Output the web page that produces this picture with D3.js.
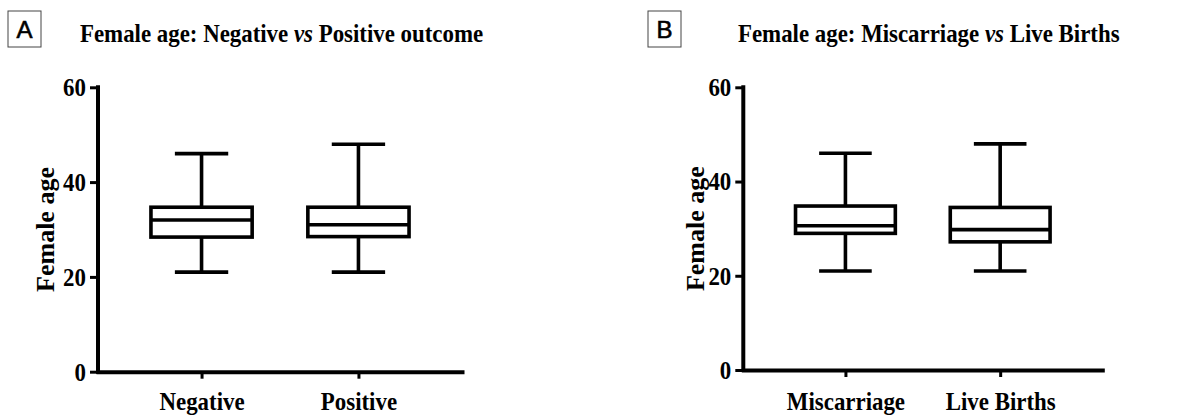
<!DOCTYPE html>
<html>
<head>
<meta charset="utf-8">
<script src="https://cdn.jsdelivr.net/npm/d3@7"></script>
<style>
    body { margin: 0; background: #fff; }
    text { font-family: "Liberation Serif", "Times New Roman", serif; font-weight: bold; fill: #000; }
    .letter { font-family: "Liberation Sans", Arial, sans-serif; font-weight: normal; }
</style>
</head>
<body>
<svg id="chart" width="1189" height="415"></svg>
<script>
// tick labels shared by both panels
var yTicks = [0, 20, 40, 60];

// panel A: negative vs positive outcome
var catsA = ["Negative", "Positive"];
var minA = [21, 21];
var q1A = [28.4, 28.5];
var medA = [32, 31];
var q3A = [34.7, 34.7];
var maxA = [46, 48];

// panel B: miscarriage vs live births
var catsB = ["Miscarriage", "Live Births"];
var minB = [21, 21];
var q1B = [29, 27.2];
var medB = [30.6, 29.8];
var q3B = [34.8, 34.5];
var maxB = [46, 48];

var svg = d3.select("#chart");
var squeeze = 0.88; // the original figure is squeezed horizontally a bit

function drawPanel(p) {
    var x = d3.scalePoint().domain(p.cats).range([p.left, p.right]).padding(0.66);
    var y = d3.scaleLinear().domain([0, 60]).range([p.bottom, p.top]);
    var step = x.step();
    var boxW = step * 0.645, capW = step * 0.34;

    var rows = p.cats.map(function(c, i) {
        return {cat: c, min: p.min[i], q1: p.q1[i], med: p.med[i], q3: p.q3[i], max: p.max[i]};
    });

    // letter box
    svg.append("rect").attr("x", p.letterX).attr("y", 11).attr("width", 33).attr("height", 36)
        .attr("fill", "none").attr("stroke", "#444").attr("stroke-width", 1);
    svg.append("text").attr("class", "letter").attr("x", p.letterX + 16.5).attr("y", 37.5)
        .attr("text-anchor", "middle").style("font-size", "24px")
        .attr("stroke", "#000").attr("stroke-width", 0.6).text(p.letter);

    // title
    var t = svg.append("text").attr("transform", "translate(" + p.titleX + ",42) scale(" + squeeze + ",1)")
        .style("font-size", "26px");
    t.append("tspan").text(p.title[0] + " ");
    t.append("tspan").style("font-style", "italic").text("vs");
    t.append("tspan").text(" " + p.title[1]);

    // axes
    var gy = svg.append("g").attr("transform", "translate(" + p.left + ",0)")
        .call(d3.axisLeft(y).tickValues(yTicks).tickSize(8).tickSizeOuter(0).tickPadding(4));
    var gx = svg.append("g").attr("transform", "translate(0," + p.bottom + ")")
        .call(d3.axisBottom(x).tickSize(7).tickSizeOuter(0));
    [gy, gx].forEach(function(g) {
        g.attr("font-family", null).attr("font-size", null);
        g.select(".domain").attr("stroke", "#000").attr("stroke-width", 4).attr("stroke-linecap", "square");
        g.selectAll(".tick line").attr("stroke", "#000").attr("stroke-width", 3);
        g.selectAll("text").attr("class", "squash").style("font-size", "26px");
    });
    gx.selectAll("text").attr("dy", 0).attr("y", 410 - p.bottom);
    gy.select(".domain").attr("d", "M0," + y(0) + "V" + y(60));

    // y label
    svg.append("text").attr("transform", "translate(" + p.labelX + "," + y(30) + ") rotate(-90)")
        .attr("text-anchor", "middle").style("font-size", "26px").text("Female age");

    // boxes
    var g = svg.append("g").attr("fill", "none").attr("stroke", "#000").attr("stroke-width", 3.6);
    var b = g.selectAll(".box").data(rows).enter().append("g").attr("class", "box");
    b.append("line").attr("x1", function(d) { return x(d.cat); }).attr("x2", function(d) { return x(d.cat); })
        .attr("y1", function(d) { return y(d.max); }).attr("y2", function(d) { return y(d.q3); });
    b.append("line").attr("x1", function(d) { return x(d.cat); }).attr("x2", function(d) { return x(d.cat); })
        .attr("y1", function(d) { return y(d.q1); }).attr("y2", function(d) { return y(d.min); });
    b.append("line").attr("x1", function(d) { return x(d.cat) - capW / 2; }).attr("x2", function(d) { return x(d.cat) + capW / 2; })
        .attr("y1", function(d) { return y(d.max); }).attr("y2", function(d) { return y(d.max); });
    b.append("line").attr("x1", function(d) { return x(d.cat) - capW / 2; }).attr("x2", function(d) { return x(d.cat) + capW / 2; })
        .attr("y1", function(d) { return y(d.min); }).attr("y2", function(d) { return y(d.min); });
    b.append("rect").attr("x", function(d) { return x(d.cat) - boxW / 2; }).attr("width", boxW)
        .attr("y", function(d) { return y(d.q3); }).attr("height", function(d) { return y(d.q1) - y(d.q3); })
        .attr("fill", "#fff");
    b.append("line").attr("x1", function(d) { return x(d.cat) - boxW / 2; }).attr("x2", function(d) { return x(d.cat) + boxW / 2; })
        .attr("y1", function(d) { return y(d.med); }).attr("y2", function(d) { return y(d.med); });
}

drawPanel({left: 98, right: 462, top: 87.3, bottom: 371.7, letter: "A", letterX: 8, titleX: 80, labelX: 54,
    title: ["Female age: Negative", "Positive outcome"],
    cats: catsA, min: minA, q1: q1A, med: medA, q3: q3A, max: maxA});
drawPanel({left: 743.3, right: 1102.3, top: 87.3, bottom: 370, letter: "B", letterX: 648, titleX: 738, labelX: 703.5,
    title: ["Female age: Miscarriage", "Live Births"],
    cats: catsB, min: minB, q1: q1B, med: medB, q3: q3B, max: maxB});

// squeeze the single-line axis labels the same way
svg.selectAll("text.squash").each(function() {
    var w = this.getComputedTextLength();
    d3.select(this).attr("textLength", w * squeeze).attr("lengthAdjust", "spacingAndGlyphs");
});
</script>
</body>
</html>
